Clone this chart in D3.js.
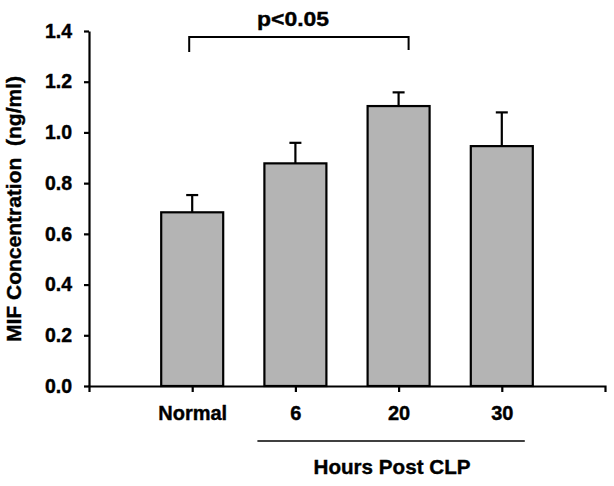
<!DOCTYPE html>
<html>
<head>
<meta charset="utf-8">
<script src="https://cdn.jsdelivr.net/npm/d3@7"></script>
<style>
  body { margin: 0; background: #fff; }
  text { font-family: "Liberation Sans", Arial, sans-serif; font-weight: bold; fill: #000; stroke: #000; stroke-width: 0.4px; }
</style>
</head>
<body>
<div id="chart"><svg></svg></div>
<script>
// data
var groups = ["Normal", "6", "20", "30"];
var means = [0.685, 0.878, 1.104, 0.946];
var errs = [0.068, 0.081, 0.054, 0.133];
var yTicks = [0, 0.2, 0.4, 0.6, 0.8, 1.0, 1.2, 1.4];

var W = 614, H = 486;
var L = 89, R = 605, T = 31, B = 386;

var svg = d3.select("#chart svg")
    .attr("width", W)
    .attr("height", H);

var x = d3.scalePoint()
    .domain(groups)
    .range([L, R])
    .padding(1);
var y = d3.scaleLinear()
    .domain([0, 1.4])
    .range([B, T]);

var barW = 62;

// bars
var gData = svg.append("g").attr("class", "data");
gData.selectAll("rect").data(means)
    .enter().append("rect")
    .attr("x", function(d, i) { return x(groups[i]) - barW / 2; })
    .attr("y", function(d) { return y(d); })
    .attr("width", barW)
    .attr("height", function(d) { return B - y(d); })
    .attr("fill", "#b4b4b4")
    .attr("stroke", "#000")
    .attr("stroke-width", 2.2);

// error bars (upper only)
var gErr = svg.append("g").attr("class", "err")
    .attr("stroke", "#000").attr("stroke-width", 2.2);
gErr.selectAll("line.v").data(means)
    .enter().append("line").attr("class", "v")
    .attr("x1", function(d, i) { return x(groups[i]); })
    .attr("x2", function(d, i) { return x(groups[i]); })
    .attr("y1", function(d) { return y(d); })
    .attr("y2", function(d, i) { return y(d + errs[i]); });
gErr.selectAll("line.c").data(means)
    .enter().append("line").attr("class", "c")
    .attr("x1", function(d, i) { return x(groups[i]) - 6; })
    .attr("x2", function(d, i) { return x(groups[i]) + 6; })
    .attr("y1", function(d, i) { return y(d + errs[i]); })
    .attr("y2", function(d, i) { return y(d + errs[i]); });

// axes
var gxAxis = svg.append("g")
    .attr("class", "x-axis axis")
    .attr("transform", "translate(0," + B + ")")
    .call(d3.axisBottom(x).tickSize(6).tickSizeOuter(6).tickPadding(14));
var gyAxis = svg.append("g")
    .attr("class", "y-axis axis")
    .attr("transform", "translate(" + L + ",0)")
    .call(d3.axisLeft(y).tickValues(yTicks).tickFormat(d3.format(".1f"))
        .tickSize(5).tickSizeOuter(0).tickPadding(12));

svg.selectAll(".axis path, .axis line")
    .attr("stroke", "#000")
    .attr("stroke-width", 2.2);
svg.selectAll(".axis text")
    .attr("font-family", "Liberation Sans, Arial, sans-serif")
    .attr("font-weight", "bold")
    .attr("fill", "#000");
gxAxis.selectAll("text").attr("font-size", 20);
gyAxis.selectAll("text").attr("font-size", 19.5);

// significance bracket
var bx1 = x("Normal") - 3, bx2 = x("20") + 10, by = 37;
svg.append("path")
    .attr("d", "M" + bx1 + "," + 52 + "V" + by + "H" + bx2 + "V" + 50)
    .attr("fill", "none")
    .attr("stroke", "#000")
    .attr("stroke-width", 2);
svg.append("text")
    .attr("x", 293)
    .attr("y", 26)
    .attr("text-anchor", "middle")
    .attr("font-size", 21)
    .attr("textLength", 72)
    .attr("lengthAdjust", "spacingAndGlyphs")
    .text("p<0.05");

// group underline + title
svg.append("line")
    .attr("x1", x("6") - 38).attr("x2", x("30") + 23)
    .attr("y1", 441).attr("y2", 441)
    .attr("stroke", "#000").attr("stroke-width", 1.6);
svg.append("text")
    .attr("x", 392)
    .attr("y", 474)
    .attr("text-anchor", "middle")
    .attr("font-size", 21)
    .attr("textLength", 157)
    .attr("lengthAdjust", "spacingAndGlyphs")
    .text("Hours Post CLP");

// y title (double space kept)
svg.append("text")
    .attr("transform", "translate(21,209) rotate(-90)")
    .attr("text-anchor", "middle")
    .attr("font-size", 20)
    .style("white-space", "pre")
    .attr("textLength", 266)
    .attr("lengthAdjust", "spacingAndGlyphs")
    .text("MIF Concentration  (ng/ml)");
</script>
</body>
</html>
